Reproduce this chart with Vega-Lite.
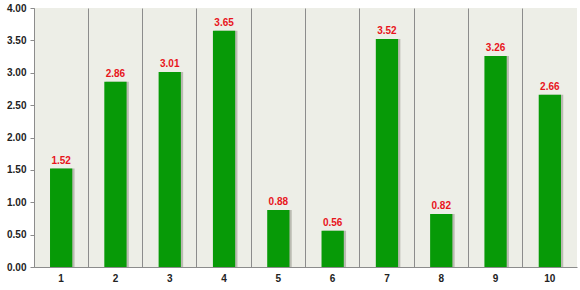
{
  "$schema": "https://vega.github.io/schema/vega-lite/v6.json",
  "width": 543,
  "height": 259,
  "autosize": {"type": "none"},
  "padding": {"left": 34, "top": 8, "right": 3, "bottom": 23},
  "background": "#ffffff",
  "config": {
    "view": {"fill": "#EDEEE7", "stroke": null},
    "font": "Liberation Sans"
  },
  "data": {
    "values": [
      {"cat": "1", "value": 1.52},
      {"cat": "2", "value": 2.86},
      {"cat": "3", "value": 3.01},
      {"cat": "4", "value": 3.65},
      {"cat": "5", "value": 0.88},
      {"cat": "6", "value": 0.56},
      {"cat": "7", "value": 3.52},
      {"cat": "8", "value": 0.82},
      {"cat": "9", "value": 3.26},
      {"cat": "10", "value": 2.66}
    ]
  },
  "encoding": {
    "x": {
      "field": "cat",
      "type": "ordinal",
      "sort": null,
      "scale": {"paddingInner": 0, "paddingOuter": 0},
      "axis": {
        "title": null,
        "labelAngle": 0,
        "grid": true,
        "bandPosition": 0,
        "gridColor": "#8C8C8C",
        "gridWidth": 1,
        "ticks": false,
        "domainColor": "#8C8C8C",
        "labelFontWeight": "bold",
        "labelFontSize": 10,
        "labelColor": "#222222",
        "labelPadding": 6
      }
    },
    "y": {
      "field": "value",
      "type": "quantitative",
      "scale": {"domain": [0, 4], "nice": false},
      "axis": {
        "title": null,
        "values": [0, 0.5, 1, 1.5, 2, 2.5, 3, 3.5, 4],
        "format": ".2f",
        "grid": false,
        "tickSize": 4,
        "tickColor": "#8C8C8C",
        "domainColor": "#8C8C8C",
        "labelPadding": 4,
        "labelFontWeight": "bold",
        "labelFontSize": 10,
        "labelColor": "#222222"
      }
    }
  },
  "layer": [
    {
      "mark": {"type": "bar", "width": {"band": 0.42}, "color": "#9A9A90", "opacity": 0.6, "xOffset": 2},
      "encoding": {}
    },
    {
      "mark": {"type": "bar", "width": {"band": 0.41}, "color": "#079A07"}
    },
    {
      "mark": {"type": "text", "dy": -8, "color": "#E8141B", "fontWeight": "bold", "fontSize": 10},
      "encoding": {"text": {"field": "value", "type": "quantitative", "format": ".2f"}}
    }
  ]
}
